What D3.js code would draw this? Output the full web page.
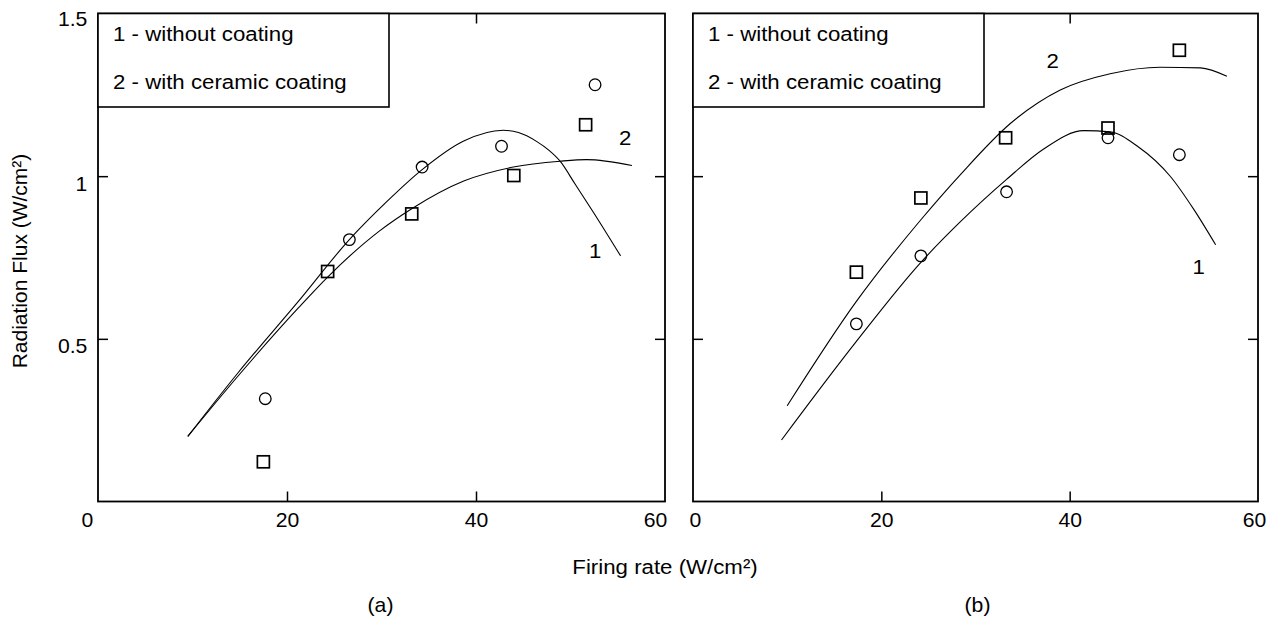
<!DOCTYPE html>
<html>
<head>
<meta charset="utf-8">
<script src="https://cdn.jsdelivr.net/npm/d3@7"></script>
<style>
  body { margin: 0; background: #fff; }
  svg text { font-family: "Liberation Sans", Arial, sans-serif; fill: #000; }
</style>
</head>
<body>
<div id="chart"></div>
<script>
// axis ticks
const xTicks = [0, 20, 40, 60];
const yTicks = [0.5, 1, 1.5];
const legendText = ["1 - without coating", "2 - with ceramic coating"];

// (a) measured points
const rateA1 = [17.7, 26.6, 34.3, 42.7, 52.6];
const fluxA1 = [0.316, 0.805, 1.028, 1.092, 1.281];
const rateA2 = [17.5, 24.3, 33.2, 44.0, 51.6];
const fluxA2 = [0.122, 0.707, 0.884, 1.002, 1.158];
// (a) fitted curves
const fitRateA1 = [9.5, 14.8, 21.2, 26.6, 30.5, 34.3, 38.7, 42.9, 44.5, 46.4, 47.7, 48.9, 50.5, 52.4, 55.3];
const fitFluxA1 = [0.20, 0.395, 0.615, 0.805, 0.92, 1.02, 1.108, 1.141, 1.134, 1.107, 1.08, 1.046, 0.975, 0.89, 0.755];
const fitRateA2 = [9.5, 14.8, 21.2, 24.3, 29.8, 33.2, 38.7, 43.95, 48.9, 51.7, 56.5];
const fitFluxA2 = [0.20, 0.385, 0.595, 0.69, 0.832, 0.9, 0.985, 1.028, 1.046, 1.051, 1.033];

// (b) measured points
const rateB1 = [17.35, 24.2, 33.3, 44.07, 51.65];
const fluxB1 = [0.546, 0.755, 0.952, 1.118, 1.066];
const rateB2 = [17.35, 24.2, 33.2, 44.07, 51.65];
const fluxB2 = [0.705, 0.933, 1.118, 1.148, 1.387];
// (b) fitted curves
const fitRateB1 = [9.4, 17.35, 24.2, 28.4, 33.3, 37.2, 41.5, 44.3, 47.2, 50.7, 53.2, 55.5];
const fitFluxB1 = [0.189, 0.492, 0.735, 0.86, 0.99, 1.083, 1.14, 1.136, 1.092, 0.999, 0.897, 0.789];
const fitRateB2 = [10.0, 17.35, 24.2, 28.4, 33.7, 39.0, 44.3, 49.6, 53.9, 56.7];
const fitFluxB2 = [0.294, 0.615, 0.866, 1.005, 1.162, 1.265, 1.315, 1.335, 1.333, 1.307];

// curve number labels [rate, flux]
const curveLabelsA = [["1", 52.6, 0.77], ["2", 55.8, 1.117]];
const curveLabelsB = [["1", 53.7, 0.72], ["2", 38.2, 1.353]];

const zip = (xs, ys) => xs.map((x, i) => [x, ys[i]]);
const K = 1.06; // horizontal stretch of the lettering

const svg = d3.select("#chart").append("svg")
  .attr("width", 1275).attr("height", 620);

function txt(g, x, y, s, size, anchor) {
  return g.append("text")
    .attr("transform", `translate(${x},${y}) scale(${K},1)`)
    .style("font-size", size + "px")
    .style("text-anchor", anchor || "start")
    .text(s);
}

const panels = [
  { x0: 98, x1: 665, tag: "(a)", showY: true,
    c1: zip(rateA1, fluxA1), c2: zip(rateA2, fluxA2),
    f1: zip(fitRateA1, fitFluxA1), f2: zip(fitRateA2, fitFluxA2),
    labels: curveLabelsA, edge: [-11, -10] },
  { x0: 693, x1: 1258, tag: "(b)", showY: false,
    c1: zip(rateB1, fluxB1), c2: zip(rateB2, fluxB2),
    f1: zip(fitRateB1, fitFluxB1), f2: zip(fitRateB2, fitFluxB2),
    labels: curveLabelsB, edge: [2, -4] }
];

const y = d3.scaleLinear().domain([0, 1.5]).range([501.5, 13.5]);

panels.forEach(p => {
  const x = d3.scaleLinear().domain([0, 60]).range([p.x0, p.x1]);
  const g = svg.append("g");

  // frame
  g.append("rect")
    .attr("x", x(0)).attr("y", y(1.5))
    .attr("width", x(60) - x(0)).attr("height", y(0) - y(1.5))
    .attr("fill", "none").attr("stroke", "#000").attr("stroke-width", 1.8);

  // inward ticks on all four sides
  const tickStyle = a => {
    a.select(".domain").remove();
    a.selectAll("line").attr("stroke", "#000").attr("stroke-width", 1.5);
  };
  g.append("g").attr("transform", `translate(0,${y(0)})`)
    .call(d3.axisBottom(x).tickValues([20, 40]).tickSize(-10).tickFormat(""))
    .call(tickStyle);
  g.append("g").attr("transform", `translate(0,${y(1.5)})`)
    .call(d3.axisTop(x).tickValues([20, 40]).tickSize(-10).tickFormat(""))
    .call(tickStyle);
  g.append("g").attr("transform", `translate(${x(0)},0)`)
    .call(d3.axisLeft(y).tickValues([0.5, 1]).tickSize(-10).tickFormat(""))
    .call(tickStyle);
  g.append("g").attr("transform", `translate(${x(60)},0)`)
    .call(d3.axisRight(y).tickValues([0.5, 1]).tickSize(-10).tickFormat(""))
    .call(tickStyle);

  // x tick labels
  const xl = g.append("g").attr("transform", `translate(0,${y(0)})`)
    .call(d3.axisBottom(x).tickValues(xTicks).tickSize(0).tickPadding(11).tickFormat(d => String(d)));
  xl.select(".domain").remove();
  xl.selectAll("text")
    .style("font-size", "20px").style("font-family", null)
    .attr("transform", `scale(${K},1)`)
    .attr("dx", d => d === 0 ? p.edge[0] / K : d === 60 ? p.edge[1] / K : 0);

  if (p.showY) {
    const yl = g.append("g").attr("transform", `translate(${x(0)},0)`)
      .call(d3.axisLeft(y).tickValues(yTicks).tickSize(0).tickPadding(10).tickFormat(d => String(d)));
    yl.select(".domain").remove();
    yl.selectAll("text")
      .style("font-size", "20px").style("font-family", null)
      .attr("transform", `scale(${K},1)`)
      .attr("dy", d => d === 1.5 ? "0.6em" : "0.7em");
  }

  // fitted curves
  const line = d3.line().x(d => x(d[0])).y(d => y(d[1])).curve(d3.curveMonotoneX);
  [p.f1, p.f2].forEach(f => {
    g.append("path").datum(f).attr("d", line)
      .attr("fill", "none").attr("stroke", "#000").attr("stroke-width", 1.1);
  });

  // measured points
  g.selectAll(".circ").data(p.c1).enter().append("circle")
    .attr("cx", d => x(d[0])).attr("cy", d => y(d[1])).attr("r", 5.8)
    .attr("fill", "none").attr("stroke", "#000").attr("stroke-width", 1.3);
  g.selectAll(".sq").data(p.c2).enter().append("rect")
    .attr("x", d => x(d[0]) - 6).attr("y", d => y(d[1]) - 6)
    .attr("width", 12).attr("height", 12)
    .attr("fill", "none").attr("stroke", "#000").attr("stroke-width", 1.7);

  // curve numbers
  p.labels.forEach(l => txt(g, x(l[1]), y(l[2]) + 7, l[0], 21, "middle"));

  // legend box
  g.append("rect")
    .attr("x", x(0)).attr("y", y(1.5))
    .attr("width", 291).attr("height", 93.5)
    .attr("fill", "#fff").attr("stroke", "#000").attr("stroke-width", 1.6);
  txt(g, x(0) + 15, 41, legendText[0], 21);
  txt(g, x(0) + 15, 89, legendText[1], 21);

  // panel tag
  txt(g, (p.x0 + p.x1) / 2 - (p.showY ? 1 : -2), 612, p.tag, 20, "middle");
});

// axis titles
txt(svg, 665, 574, "Firing rate (W/cm²)", 21, "middle");
svg.append("text")
  .attr("transform", "translate(27,261) rotate(-90)")
  .style("font-size", "21px").style("text-anchor", "middle")
  .text("Radiation Flux (W/cm²)");
</script>
</body>
</html>
